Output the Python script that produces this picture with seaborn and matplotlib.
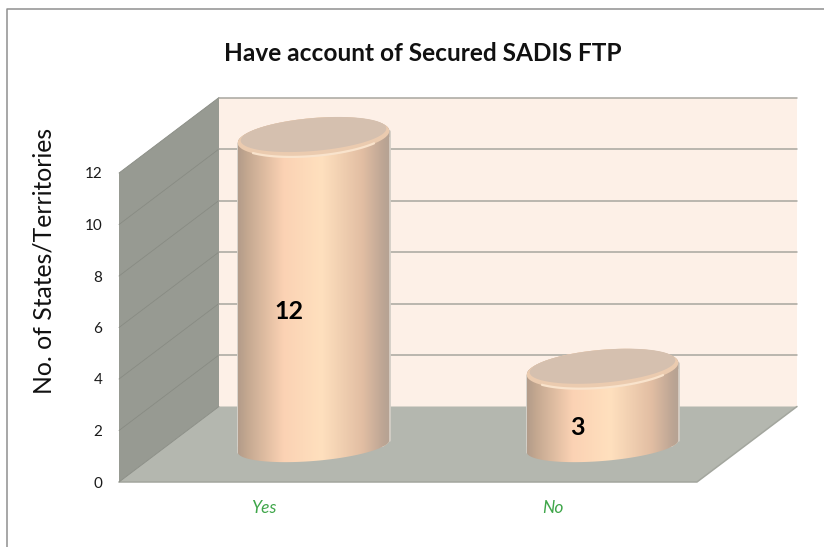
import numpy as np
import matplotlib
matplotlib.use('Agg')
import matplotlib.pyplot as plt
from matplotlib.colors import LinearSegmentedColormap
from matplotlib.lines import Line2D
from matplotlib.patches import PathPatch, Polygon
from matplotlib.path import Path
from matplotlib.transforms import Affine2D, IdentityTransform
import seaborn as sns

categories = ['Yes', 'No']
counts = [12, 3]
y_ticks = [0, 2, 4, 6, 8, 10, 12]

W, H = 824, 547
DEPTH_X, DEPTH_Y = 100, 75.5  # back wall shift in pixels
BAR_X, BAR_Y = 50, 36  # bars stand half way back
TILT = 6  # slant of the cylinder ends
TOP_MINOR, BASE_MINOR = 19, 15

sns.set_theme(style='white')
plt.rcParams['font.family'] = ['Lato', 'DejaVu Sans']

fig = plt.figure(figsize=(W / 100, H / 100), dpi=100, facecolor='white')
ax = fig.add_axes([119 / W, (H - 482) / H, 578 / W, 309 / H])
ax.patch.set_visible(False)

sns.barplot(x=categories, y=counts, ax=ax, width=0.525, color='#F5D4B6', saturation=1)
ax.set_xlim(-0.5, 1.5)
ax.set_ylim(0, 12)
ax.set_yticks(y_ticks)
sns.despine(ax=ax, left=True, bottom=True, right=True, top=True)
ax.tick_params(axis='y', length=0, pad=12, labelsize=11, labelcolor='#1a1a1a')
ax.tick_params(axis='x', length=0, pad=13.3, labelsize=12.5, labelcolor='#3FA64A')
for lab in ax.get_xticklabels():
    lab.set_style('italic')

ax.set_xlabel('')
ax.set_ylabel('No. of States/Territories', fontsize=17.8, color='#111111')
ax.yaxis.set_label_coords(-0.11, 0.715)
fig.suptitle('Have account of Secured SADIS FTP', x=423 / W, y=1 - 53.5 / H,
             fontsize=17.6, fontweight='bold', color='#111111', va='center')

# walls and floor, taken from the front plane of the axes
to_px = ax.transData.transform
left, bottom = to_px((-0.5, 0))
right, top = to_px((1.5, 12))
pix = IdentityTransform()


def add_poly(points, color):
    ax.add_patch(Polygon(points, closed=True, facecolor=color, edgecolor='none',
                         transform=pix, clip_on=False, zorder=0.1))


add_poly([(left + DEPTH_X, bottom + DEPTH_Y), (right + DEPTH_X, bottom + DEPTH_Y),
          (right + DEPTH_X, top + DEPTH_Y), (left + DEPTH_X, top + DEPTH_Y)], '#FDF0E7')
add_poly([(left, bottom), (right, bottom), (right + DEPTH_X, bottom + DEPTH_Y),
          (left + DEPTH_X, bottom + DEPTH_Y)], '#B4B7AF')
add_poly([(left, bottom), (left + DEPTH_X, bottom + DEPTH_Y),
          (left + DEPTH_X, top + DEPTH_Y), (left, top)], '#979A92')

for t in y_ticks:
    yy = to_px((0, t))[1]
    if t > 0:
        ax.add_line(Line2D([left, left + DEPTH_X], [yy, yy + DEPTH_Y], color='#888B83', lw=0.6,
                           transform=pix, clip_on=False, zorder=0.2))
        ax.add_line(Line2D([left + DEPTH_X, right + DEPTH_X], [yy + DEPTH_Y, yy + DEPTH_Y], color='#A8A69F', lw=1.1,
                           transform=pix, clip_on=False, zorder=0.2))
ax.add_line(Line2D([left, right, right + DEPTH_X], [bottom, bottom, bottom + DEPTH_Y], color='#A3A69E', lw=1.1,
                   transform=pix, clip_on=False, zorder=0.2))
ax.add_line(Line2D([left, left + DEPTH_X], [bottom, bottom + DEPTH_Y], color='#888B83', lw=0.6,
                   transform=pix, clip_on=False, zorder=0.2))

body_cmap = LinearSegmentedColormap.from_list('body', [
    (0.0, '#B39C8A'), (0.06, '#C4A890'), (0.3, '#FBD2B4'), (0.55, '#FFE0BE'),
    (0.82, '#E2BEA3'), (0.96, '#BCA594'), (1.0, '#B5A293')])
shift = Affine2D().translate(BAR_X, BAR_Y)
grad = np.linspace(0, 1, 256).reshape(1, -1)


def end_arc(cx, cy, a, minor, start, stop):
    t = np.linspace(start, stop, 80)
    return np.column_stack([cx + a * np.cos(t), cy + TILT * np.cos(t) + minor * np.sin(t)])


for bar, val in zip(ax.patches, counts):
    x0, w = bar.get_x(), bar.get_width()
    (px0, py0) = to_px((x0, 0)) + (BAR_X, BAR_Y)
    (px1, py1) = to_px((x0 + w, val)) + (BAR_X, BAR_Y)
    cx, a = (px0 + px1) / 2, (px1 - px0) / 2

    # cylinder outline: lower half of the base plus lower half of the top
    base = end_arc(cx, py0, a, BASE_MINOR, np.pi, 2 * np.pi)
    upper = end_arc(cx, py1, a, TOP_MINOR, 0, np.pi)
    outline = Path(np.vstack([base, upper, base[:1]]), closed=True)

    # pale glow on the two sides only
    for side_x, y_low, y_high in [(px0, base[0, 1], upper[-1, 1]), (px1, base[-1, 1], upper[0, 1])]:
        ax.add_line(Line2D([side_x, side_x], [y_low, y_high], color='#D3CEC6', lw=2.0,
                           transform=pix, clip_on=False, zorder=1))

    bar.set_transform(ax.transData + shift)
    bar.set_zorder(1.1)
    bar.set_clip_box(fig.bbox)
    bar.set_clip_path(outline, pix)

    im = ax.imshow(grad, cmap=body_cmap, aspect='auto', zorder=1.2,
                   extent=(x0, x0 + w, -2, val + 2), transform=ax.transData + shift)
    im.set_clip_box(fig.bbox)
    im.set_clip_path(outline, pix)

    # top of the cylinder: lighter rim, then the flat cap
    rim = end_arc(cx, py1, a, TOP_MINOR, 0, 2 * np.pi)
    ax.add_patch(PathPatch(Path(rim, closed=True), facecolor='#EBCBAF', edgecolor='none',
                           transform=pix, clip_on=False, zorder=1.3))
    low = end_arc(cx, py1, a - 1, TOP_MINOR, np.pi * 1.2, np.pi * 1.8)
    ax.add_line(Line2D(low[:, 0], low[:, 1], color='#F9E3CC', lw=1.6,
                       transform=pix, clip_on=False, zorder=1.4))
    cap = end_arc(cx, py1 + 2.5, a - 3, TOP_MINOR - 2.5, 0, 2 * np.pi)
    ax.add_patch(PathPatch(Path(cap, closed=True), facecolor='#D5C0AF', edgecolor='none',
                           transform=pix, clip_on=False, zorder=1.5))

    ax.annotate(str(val), (x0 + w / 2, val / 2), xytext=(25 * 0.72, 16 * 0.72),
                textcoords='offset points', ha='center', va='center',
                fontsize=18, fontweight='bold', color='black', zorder=2)

ax.set_xlim(-0.5, 1.5)
ax.set_ylim(0, 12)

# slide frame, only top and left show
fig.add_artist(Line2D([6.5 / W, 6.5 / W, 1], [0, 1 - 8.5 / H, 1 - 8.5 / H], color='#8F8F8F', lw=1.1))

fig.savefig('out.png', dpi=100)
